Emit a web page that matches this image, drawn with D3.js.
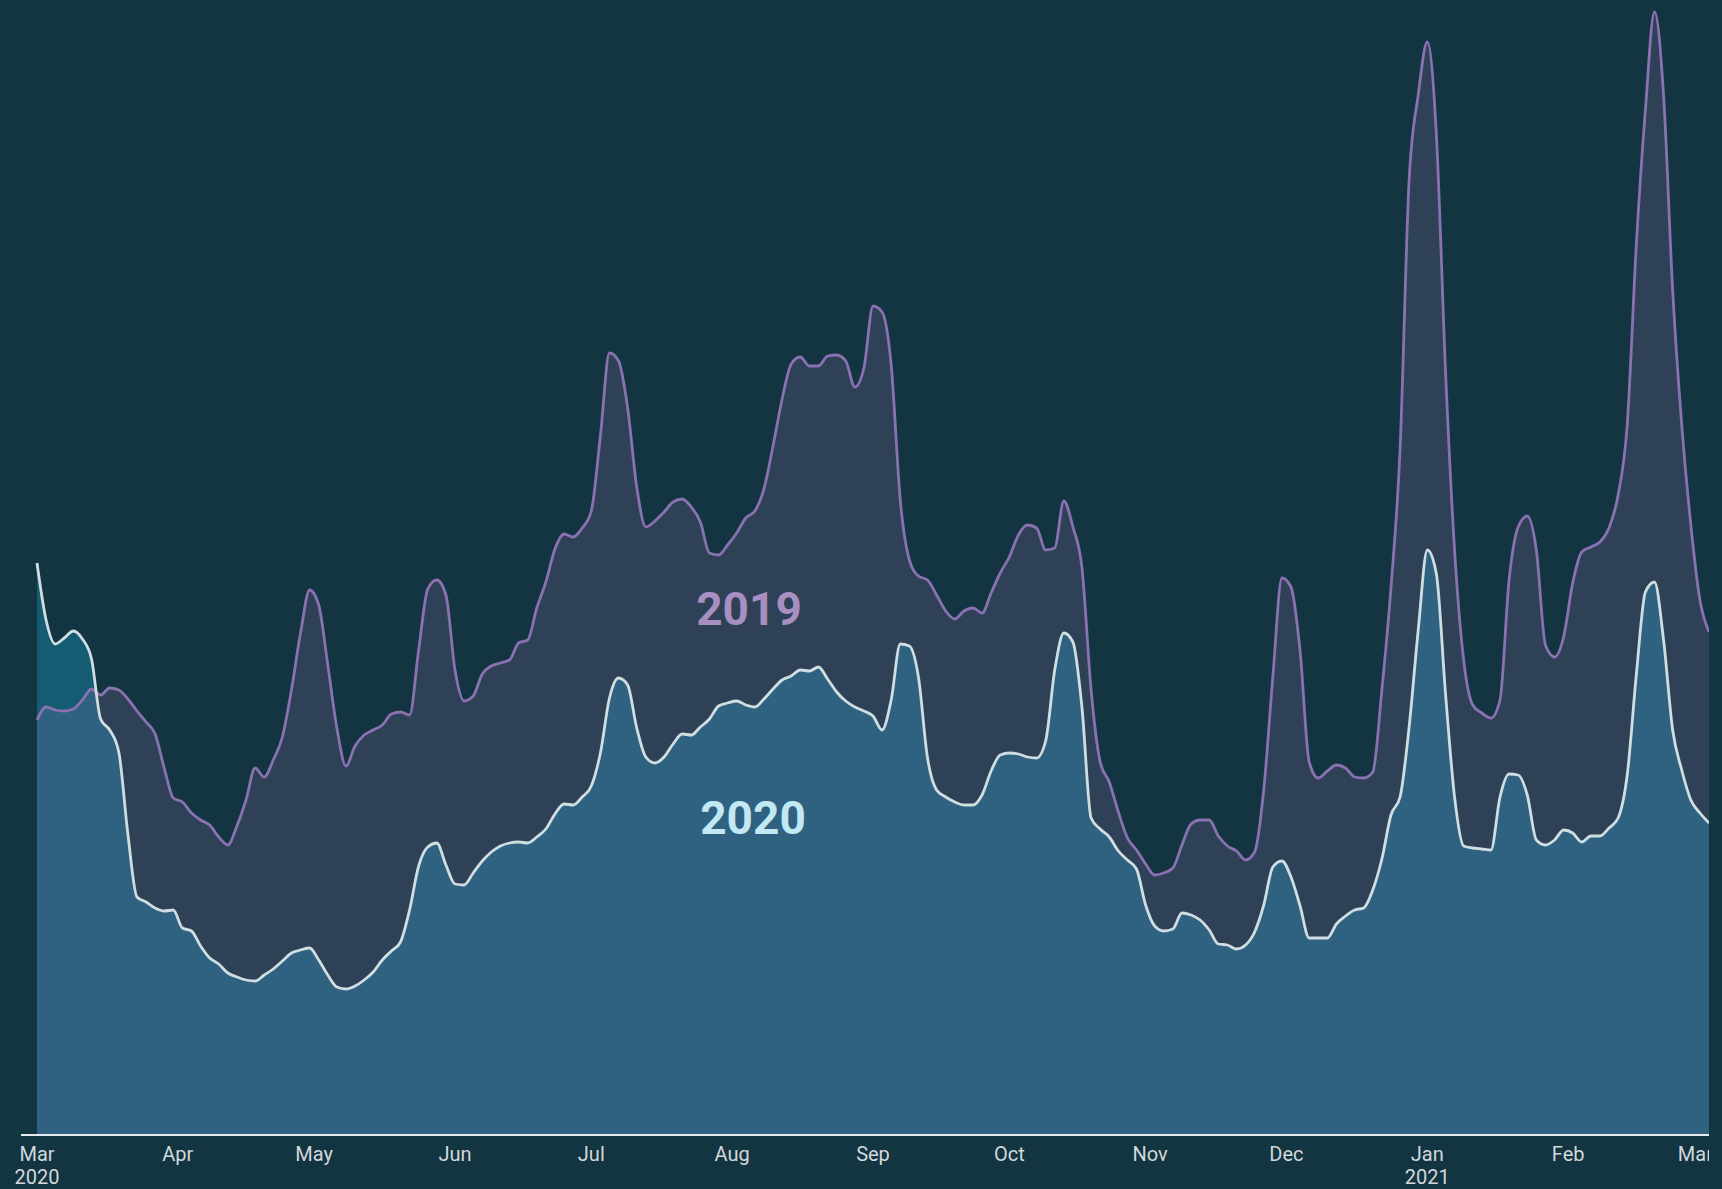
<!DOCTYPE html>
<html>
<head>
    <meta charset="utf-8">
    <title>2019 vs 2020</title>
    <script src="https://cdn.jsdelivr.net/npm/d3@7"></script>
    <style>
        html, body { margin: 0; padding: 0; background: #133441; }
        svg { display: block; }
    </style>
</head>
<body>
    <div id="chart"></div>

    <script>
        // data, one value every 2 days from 1 Mar 2020 (index, 0 = baseline)
        var startDate = "2020-03-01";
        var stepDays = 2;

        var values2020 = [
            57.1, 51.4, 49.0, 49.6, 50.3, 49.5, 47.5, 41.5, 40.4, 38.2,
            30.0, 23.7, 23.2, 22.6, 22.3, 22.4, 20.6, 20.3, 18.8, 17.6,
            17.0, 16.1, 15.7, 15.4, 15.3, 15.9, 16.5, 17.3, 18.1, 18.4,
            18.6, 17.4, 15.9, 14.7, 14.5, 14.8, 15.4, 16.2, 17.4, 18.3,
            19.2, 22.4, 26.8, 28.7, 29.1, 26.9, 25.0, 24.9, 26.1, 27.3,
            28.2, 28.8, 29.1, 29.2, 29.1, 29.7, 30.5, 32.0, 33.0, 32.9,
            33.7, 34.8, 38.1, 43.6, 45.6, 44.9, 40.6, 37.7, 37.1, 37.7,
            39.0, 40.0, 39.9, 40.7, 41.5, 42.8, 43.1, 43.3, 42.9, 42.7,
            43.5, 44.5, 45.4, 45.8, 46.4, 46.3, 46.7, 45.5, 44.2, 43.3,
            42.7, 42.3, 41.8, 40.4, 43.4, 49.0, 48.8, 45.7, 37.6, 34.4,
            33.7, 33.2, 32.9, 32.9, 33.9, 36.3, 37.9, 38.1, 38.0, 37.7,
            37.6, 39.3, 46.4, 50.1, 49.2, 42.6, 31.6, 30.5, 29.7, 28.3,
            27.4, 26.5, 22.9, 20.8, 20.3, 20.5, 22.1, 21.9, 21.4, 20.4,
            19.0, 18.9, 18.5, 18.9, 20.2, 22.9, 26.7, 27.3, 25.7, 22.8,
            19.6, 19.6, 19.6, 21.0, 21.8, 22.4, 22.6, 24.4, 27.5, 31.9,
            33.7, 40.7, 50.4, 58.4, 56.0, 44.1, 33.7, 28.8, 28.6, 28.5,
            28.4, 33.7, 36.0, 35.9, 33.9, 29.4, 28.9, 29.4, 30.4, 30.1,
            29.2, 29.8, 29.8, 30.6, 31.6, 35.9, 45.9, 54.2, 55.2, 49.4,
            40.4, 36.4, 33.4, 32.1, 31.1
        ];

        var values2019 = [
            41.4, 42.7, 42.4, 42.3, 42.5, 43.4, 44.5, 43.9, 44.6, 44.4,
            43.5, 42.3, 41.2, 40.0, 36.6, 33.6, 33.2, 32.1, 31.4, 30.9,
            29.7, 28.9, 30.8, 33.4, 36.6, 35.7, 37.4, 39.7, 44.4, 50.1,
            54.4, 52.9, 46.9, 40.6, 36.8, 38.8, 39.9, 40.4, 40.9, 42.0,
            42.2, 41.9, 48.4, 54.5, 55.4, 53.9, 46.4, 43.3, 43.8, 46.0,
            46.8, 47.1, 47.4, 49.1, 49.4, 52.6, 55.2, 58.5, 60.0, 59.7,
            60.6, 62.3, 69.8, 78.1, 77.3, 72.6, 64.7, 60.7, 61.3, 62.2,
            63.2, 63.5, 62.7, 61.2, 58.1, 57.9, 58.9, 60.1, 61.6, 62.3,
            64.5, 68.8, 73.5, 77.0, 77.7, 76.8, 76.8, 77.8, 77.9, 77.3,
            74.7, 76.6, 82.8, 82.2, 76.9, 63.4, 57.4, 55.8, 55.4, 53.9,
            52.3, 51.5, 52.3, 52.6, 52.1, 54.1, 56.1, 57.7, 59.9, 60.9,
            60.6, 58.4, 58.6, 63.3, 60.7, 56.6, 44.4, 37.2, 35.2, 32.2,
            29.6, 28.4, 27.0, 25.9, 26.1, 26.6, 28.9, 31.0, 31.4, 31.4,
            29.8, 28.8, 28.3, 27.4, 28.2, 34.4, 45.7, 55.6, 54.7, 48.3,
            37.2, 35.6, 36.3, 36.9, 36.6, 35.7, 35.6, 36.2, 44.4, 54.6,
            68.4, 95.4, 103.9, 109.2, 99.9, 76.4, 58.4, 47.4, 42.9, 42.1,
            41.6, 43.4, 55.4, 60.7, 61.8, 58.4, 48.9, 47.7, 49.7, 55.1,
            58.2, 58.7, 59.2, 60.6, 63.9, 70.9, 88.9, 102.4, 112.2, 103.9,
            84.4, 70.9, 60.9, 53.4, 50.2
        ];

        var seriesLabels = ["2019", "2020"];

        var width = 1709, height = 1189;
        var plotLeft = 37, plotRight = 1709, baseY = 1134, topY = 34;

        var parseDate = d3.timeParse("%Y-%m-%d");
        var start = parseDate(startDate);
        var dates = values2020.map(function (d, i) { return d3.timeDay.offset(start, i * stepDays); });

        var data = dates.map(function (d, i) {
            return { date: d, v2019: values2019[i], v2020: values2020[i] };
        });

        var x = d3.scaleTime()
            .domain(d3.extent(dates))
            .range([plotLeft, plotRight]);

        var y = d3.scaleLinear()
            .domain([0, 110])
            .range([baseY, topY]);

        var svg = d3.select("#chart")
            .append("svg")
            .attr("width", width)
            .attr("height", height)
            .style("font-family", "Roboto, 'Noto Sans', sans-serif");

        svg.append("rect")
            .attr("width", width)
            .attr("height", height)
            .attr("fill", "#133441");

        var curve = d3.curveMonotoneX;

        function areaFor(key) {
            return d3.area()
                .curve(curve)
                .x(function (d) { return x(d.date); })
                .y0(y(0))
                .y1(function (d) { return y(d[key]); });
        }
        function lineFor(key) {
            return d3.line()
                .curve(curve)
                .x(function (d) { return x(d.date); })
                .y(function (d) { return y(d[key]); });
        }

        // 2020 area underneath, 2019 area as a light purple veil on top
        svg.append("path")
            .datum(data)
            .attr("fill", "#155b71")
            .attr("d", areaFor("v2020"));

        svg.append("path")
            .datum(data)
            .attr("fill", "#c78bd4")
            .attr("fill-opacity", 0.15)
            .attr("d", areaFor("v2019"));

        svg.append("path")
            .datum(data)
            .attr("fill", "none")
            .attr("stroke", "#8a71b1")
            .attr("stroke-width", 2.8)
            .attr("stroke-linejoin", "round")
            .attr("d", lineFor("v2019"));

        svg.append("path")
            .datum(data)
            .attr("fill", "none")
            .attr("stroke", "#d0dde1")
            .attr("stroke-width", 2.8)
            .attr("stroke-linejoin", "round")
            .attr("d", lineFor("v2020"));

        // x axis
        var axis = svg.append("g")
            .attr("transform", "translate(0," + baseY + ")");

        axis.append("line")
            .attr("x1", 21)
            .attr("x2", plotRight)
            .attr("y1", 1)
            .attr("y2", 1)
            .attr("stroke", "#e6ecee")
            .attr("stroke-width", 2);

        var ticks = d3.timeMonth.range(d3.timeMonth.ceil(x.domain()[0]), x.domain()[1]);

        var tick = axis.selectAll(".tick")
            .data(ticks)
            .join("text")
            .attr("class", "tick")
            .attr("x", function (d) { return x(d); })
            .attr("y", 27)
            .attr("text-anchor", "middle")
            .attr("fill", "#d2d8db")
            .style("font-size", "20px");

        tick.append("tspan")
            .text(d3.timeFormat("%b"));

        tick.filter(function (d, i) { return i === 0 || d.getMonth() === 0; })
            .append("tspan")
            .attr("x", function (d) { return x(d); })
            .attr("dy", 23)
            .text(d3.timeFormat("%Y"));

        // series labels
        svg.append("text")
            .attr("x", 749)
            .attr("y", 625)
            .attr("text-anchor", "middle")
            .attr("fill", "#a88fc1")
            .style("font-size", "46px")
            .style("font-weight", "bold")
            .text(seriesLabels[0]);

        svg.append("text")
            .attr("x", 753)
            .attr("y", 834)
            .attr("text-anchor", "middle")
            .attr("fill", "#c2e8f3")
            .style("font-size", "46px")
            .style("font-weight", "bold")
            .text(seriesLabels[1]);
    </script>
</body>
</html>
